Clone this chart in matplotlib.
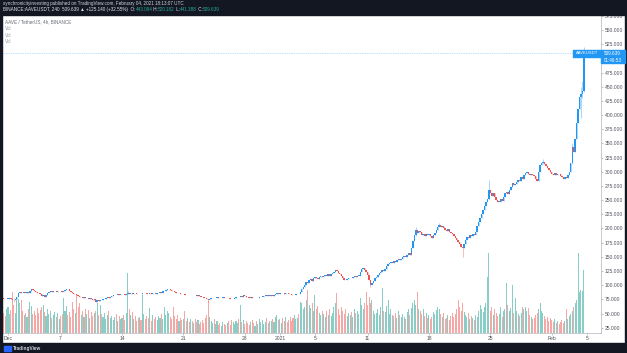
import matplotlib
matplotlib.use('Agg')
import matplotlib.pyplot as plt
import numpy as np
from matplotlib.patches import Rectangle

plt.rcParams['font.family'] = ['Liberation Sans', 'DejaVu Sans']

# ---------------- data (4h candles, BINANCE:AAVEUSDT) ----------------
# rows = days starting Nov 30 2020 (day -1 relative to Dec 1), six 4h closes per day
first_day = -1
first_open = 74.5
closes = [
    [74, 75, 77, 76, 75, 76],          # Nov 30
    [76, 77, 75, 74, 73, 75],          # Dec 1
    [80, 86, 88, 87, 86, 88],
    [87, 88, 86, 89, 93, 91],
    [89, 88, 87, 86, 84, 81],
    [82, 80, 83, 87, 88, 89],
    [88, 89, 90, 88, 89, 90],
    [89, 88, 90, 92, 94, 93],          # Dec 7
    [90, 88, 86, 84, 85, 82],
    [81, 79, 80, 78, 79, 77],
    [78, 76, 77, 75, 74, 75],
    [71, 73, 72, 74, 73, 75],
    [76, 77, 79, 78, 80, 81],
    [82, 83, 82, 84, 83, 84],
    [85, 84, 83, 85, 86, 85],          # Dec 14
    [86, 85, 87, 86, 85, 84],
    [85, 84, 86, 87, 86, 85],
    [84, 86, 85, 87, 86, 85],
    [86, 87, 88, 87, 89, 90],
    [91, 93, 94, 92, 90, 89],
    [88, 87, 86, 87, 85, 84],
    [84, 83, 82, 83, 82, 83],          # Dec 21
    [82, 83, 82, 81, 82, 81],
    [80, 79, 78, 77, 75, 74],
    [75, 77, 78, 77, 78, 79],
    [78, 77, 78, 79, 78, 77],
    [78, 77, 76, 75, 76, 77],
    [79, 80, 79, 81, 80, 82],
    [81, 80, 79, 78, 79, 78],          # Dec 28
    [77, 78, 77, 78, 79, 80],
    [80, 81, 82, 81, 82, 81],
    [82, 81, 83, 84, 86, 85],
    [86, 87, 86, 85, 87, 86],          # Jan 1
    [85, 84, 83, 82, 83, 84],
    [85, 84, 88, 93, 97, 101],
    [106, 104, 109, 111, 108, 113],
    [115, 113, 111, 114, 116, 115],    # Jan 5
    [117, 118, 116, 119, 117, 120],
    [122, 124, 127, 125, 122, 119],
    [116, 113, 110, 109, 111, 112],
    [113, 112, 114, 116, 115, 117],
    [117, 124, 128, 130, 127, 124],
    [118, 109, 100, 104, 108, 112],    # Jan 11
    [115, 118, 121, 124, 127, 125],
    [128, 133, 137, 139, 141, 140],
    [143, 141, 144, 146, 144, 147],
    [150, 152, 149, 153, 156, 154],
    [165, 178, 188, 197, 192, 195],
    [193, 188, 191, 186, 190, 188],
    [190, 186, 184, 188, 192, 197],    # Jan 18
    [203, 206, 202, 204, 200, 198],
    [196, 199, 194, 192, 190, 187],
    [184, 180, 176, 172, 168, 165],
    [172, 180, 185, 183, 188, 186],
    [190, 188, 194, 205, 212, 218],
    [225, 232, 240, 246, 252, 268],
    [262, 258, 262, 255, 250, 247],    # Jan 25
    [247, 252, 248, 255, 262, 265],
    [260, 268, 274, 280, 276, 279],
    [282, 286, 284, 290, 288, 294],
    [298, 300, 296, 294, 297, 294],
    [292, 288, 284, 300, 312, 316],
    [318, 314, 310, 306, 303, 300],
    [297, 294, 298, 294, 297, 296],    # Feb 1
    [292, 290, 288, 291, 289, 294],
    [300, 315, 344, 335, 358, 386],
    [410, 432, 438, 443.094, 509.639], # Feb 4
]

volumes = [
    [18, 22, 15, 20, 17, 24],
    [26, 19, 23, 41, 28, 20],
    [36, 34, 30, 33, 22, 18],
    [20, 16, 24, 31, 27, 19],
    [22, 18, 25, 20, 23, 26],
    [28, 21, 17, 24, 19, 22],
    [15, 18, 21, 16, 20, 14],
    [17, 19, 35, 22, 27, 18],
    [21, 16, 31, 24, 20, 39],
    [26, 30, 18, 22, 16, 24],
    [19, 23, 15, 21, 17, 20],
    [22, 30, 18, 28, 19, 16],
    [20, 14, 18, 22, 15, 17],
    [13, 16, 19, 12, 17, 14],
    [15, 18, 13, 20, 60, 24],
    [18, 21, 14, 17, 12, 15],
    [16, 13, 38, 19, 14, 17],
    [15, 25, 12, 18, 14, 16],
    [13, 17, 15, 19, 14, 26],
    [18, 22, 20, 16, 14, 26],
    [17, 14, 18, 12, 15, 13],
    [14, 22, 12, 15, 11, 14],
    [12, 10, 14, 11, 13, 9],
    [11, 13, 10, 15, 18, 32],
    [16, 12, 10, 14, 9, 12],
    [8, 10, 7, 11, 9, 8],
    [10, 12, 8, 13, 11, 9],
    [12, 10, 14, 28, 11, 13],
    [9, 12, 10, 8, 11, 13],
    [10, 7, 12, 9, 14, 11],
    [13, 9, 11, 15, 10, 12],
    [12, 14, 11, 16, 18, 13],
    [14, 10, 15, 12, 16, 11],
    [13, 16, 12, 15, 18, 14],
    [15, 19, 31, 30, 24, 26],
    [33, 43, 28, 25, 30, 22],
    [38, 24, 27, 20, 18, 22],
    [19, 16, 22, 18, 24, 17],
    [20, 26, 30, 40, 24, 18],
    [26, 22, 19, 24, 17, 20],
    [18, 21, 16, 24, 20, 22],
    [19, 35, 28, 24, 30, 41],
    [28, 36, 30, 33, 22, 19],
    [20, 24, 18, 26, 45, 22],
    [21, 27, 33, 19, 24, 18],
    [17, 20, 15, 22, 18, 16],
    [19, 16, 14, 21, 24, 18],
    [25, 30, 33, 28, 41, 24],
    [22, 19, 24, 17, 20, 15],
    [18, 14, 16, 21, 19, 23],
    [26, 24, 19, 16, 20, 14],
    [15, 18, 13, 17, 20, 16],
    [19, 24, 33, 26, 22, 30],
    [21, 18, 16, 20, 14, 17],
    [15, 13, 18, 16, 22, 28],
    [24, 21, 26, 30, 56, 80],
    [22, 26, 18, 24, 20, 17],
    [19, 26, 16, 22, 24, 50],
    [28, 22, 25, 48, 20, 35],
    [22, 19, 17, 20, 26, 24],
    [26, 22, 25, 18, 16, 14],
    [15, 18, 20, 24, 30, 22],
    [20, 17, 14, 16, 12, 15],
    [13, 11, 14, 10, 12, 9],
    [11, 13, 10, 12, 24, 14],
    [17, 19, 22, 26, 30, 33],
    [80, 41, 43, 42, 63],
]

# notable wicks: (day row index, slot, high, low)
wick_row = [1, 14, 23, 42, 47, 50, 52, 55, 62, 65, 66, 66, 66]
wick_slot = [4, 4, 5, 2, 3, 1, 5, 5, 0, 2, 2, 3, 4]
wick_high = [75, 90, 75, 109, 203, 210, 168, 285, 322, 350, 450, 460, 520.182]
wick_low = [70, 84, 70, 96, 187, 202, 150, 250, 314, 314, 395, 430, 441.388]

price_ticks = list(range(25, 576, 25))
time_tick_days = [0, 6, 13, 20, 27, 31, 35, 41, 48, 55, 62, 66]
time_tick_labels = ['Dec', '7', '14', '21', '28', '2021', '5', '11', '18', '25', 'Feb', '5']
last_price = 509.639

# ---------------- figure ----------------
W, H = 627, 353
fig = plt.figure(figsize=(W / 100, H / 100), dpi=100)
fig.patch.set_facecolor('white')

def fx(px):
    return px / W

def fy(py):
    return 1 - py / H

dark = '#131722'
for (x0, y0, w, h) in [(0, 0, W, 15), (0, 343, W, 10), (0, 0, 2, H), (625, 0, 2, H)]:
    fig.add_artist(Rectangle((fx(x0), fy(y0 + h)), w / W, h / H,
                             transform=fig.transFigure, color=dark, zorder=10))

rect = [fx(2), fy(333), fx(601) - fx(2), (333 - 15) / H]
axv = fig.add_axes(rect, zorder=1)
ax = fig.add_axes(rect, zorder=2)
ax.patch.set_alpha(0)

xlim = ((2 - 8) / 8.77, (601 - 8) / 8.77)
ylim = (15.65, 576.6)

c = np.array([v for row in closes for v in row], dtype=float)
vol = np.array([v for row in volumes for v in row], dtype=float)
n = len(c)
t = first_day + np.arange(n) / 6.0
o = np.concatenate([[first_open], c[:-1]])
up = c >= o

hi = np.maximum(o, c)
lo = np.minimum(o, c)
wi = [sum(len(r) for r in closes[:rw]) + s for rw, s in zip(wick_row, wick_slot)]
hi_w = hi.copy(); lo_w = lo.copy()
for k, i in enumerate(wi):
    hi_w[i] = wick_high[k]
    lo_w[i] = wick_low[k]

up_col = '#2196f3'
dn_col = '#ef5350'

# volume
axv.bar(t[up], vol[up], width=0.12, color='#26a69a', alpha=0.55, linewidth=0, align='center')
axv.bar(t[~up], vol[~up], width=0.12, color='#ef5350', alpha=0.5, linewidth=0, align='center')
axv.set_xlim(*xlim)
axv.set_ylim(0, vol.max() * 318 / 80)
axv.axis('off')

# candles
cols = np.where(up, up_col, dn_col)
ax.vlines(t, lo_w, hi_w, colors=cols, linewidth=0.6, alpha=0.45)
body_h = np.maximum(hi - lo, 1.0)
ax.bar(t, body_h, bottom=lo, width=0.16, color=cols, linewidth=0)

ax.axhline(last_price, color=up_col, lw=0.5, ls=(0, (1, 1.5)), alpha=0.6)

ax.set_xlim(*xlim)
ax.set_ylim(*ylim)
ax.yaxis.tick_right()
ax.set_yticks(price_ticks)
ax.set_yticklabels([f'{v:.3f}' for v in price_ticks])
ax.set_xticks(time_tick_days)
ax.set_xticklabels(time_tick_labels)
ax.tick_params(axis='y', length=1.5, width=0.4, color='#9598a1', pad=1.2,
               labelsize=3.6, labelcolor='#50535e')
ax.tick_params(axis='x', length=1.5, width=0.4, color='#9598a1', pad=1.0,
               labelsize=3.6, labelcolor='#50535e')
for s in ['top', 'left']:
    ax.spines[s].set_visible(False)
for s in ['bottom', 'right']:
    ax.spines[s].set_color('#b2b5be')
    ax.spines[s].set_linewidth(0.5)

# last price labels
def box(x0, y0, x1, y1, color):
    fig.add_artist(Rectangle((fx(x0), fy(y1)), (x1 - x0) / W, (y1 - y0) / H,
                             transform=fig.transFigure, color=color, zorder=11))

box(573, 50, 601, 56.7, up_col)
box(601, 50, 625, 63.3, up_col)
fig.text(fx(587), fy(53.3), 'AAVEUSDT', color='white', fontsize=3.0,
         ha='center', va='center', zorder=12)
fig.text(fx(604), fy(53.3), f'{last_price:.3f}', color='white', fontsize=3.3,
         ha='left', va='center', zorder=12)
fig.text(fx(604), fy(60), '01:46:53', color='white', fontsize=3.3,
         ha='left', va='center', zorder=12)

# header text
fig.text(fx(3), fy(3.2), 'synchronicityinvesting published on TradingView.com, February 04, 2021 18:13:07 UTC',
         color='#d1d4dc', fontsize=3.3, ha='left', va='center', zorder=12)

renderer = fig.canvas.get_renderer()
pieces = [('BINANCE:AAVEUSDT, 240  509.639 \u25b2 +125.140 (+32.55%)  O:', '#e0e3eb'),
          ('443.094', '#26a69a'), (' H:', '#e0e3eb'), ('520.182', '#26a69a'),
          (' L:', '#e0e3eb'), ('441.388', '#26a69a'), (' C:', '#e0e3eb'), ('509.639', '#26a69a')]
xp = fx(3)
for txt, col in pieces:
    tt = fig.text(xp, fy(9.6), txt, color=col, fontsize=3.3, ha='left', va='center', zorder=12)
    bb = tt.get_window_extent(renderer)
    xp += bb.width / (W)

fig.text(fx(5), fy(21.8), 'AAVE / TetherUS, 4h, BINANCE', color='#6a6d78', fontsize=3.3,
         ha='left', va='center')
for yy in [28.6, 35.1, 41.6]:
    fig.text(fx(5), fy(yy), 'Vol', color='#9598a1', fontsize=3.3, ha='left', va='center')

# footer
fig.add_artist(Rectangle((fx(4), fy(350.5)), 7 / W, 4.5 / H, transform=fig.transFigure,
                         color='#2962ff', zorder=12))
fig.text(fx(13), fy(348.2), 'TradingView', color='#d1d4dc', fontsize=3.4,
         fontweight='bold', ha='left', va='center', zorder=12)

fig.savefig('out.png', dpi=100, facecolor='white')
